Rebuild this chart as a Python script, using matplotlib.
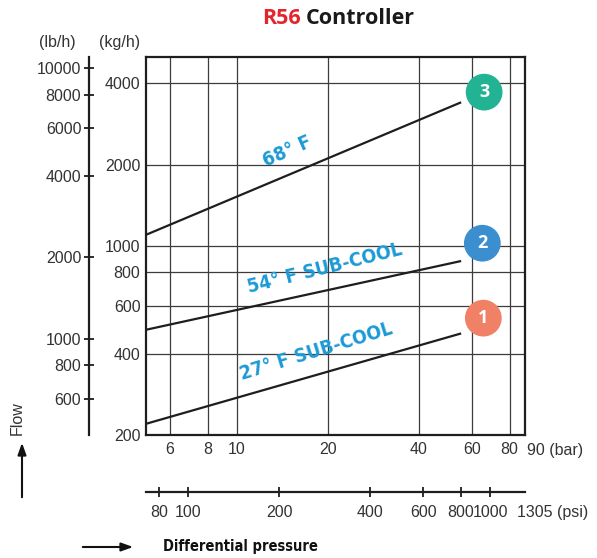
import matplotlib
matplotlib.use("Agg")
import matplotlib.pyplot as plt
from matplotlib.ticker import FixedLocator, NullLocator, NullFormatter

# ---- data -----------------------------------------------------------------
pressure_bar = [5, 55.3]               # differential pressure range of the curves
flow_27F_subcool = [220, 475]          # kg/h
flow_54F_subcool = [490, 880]          # kg/h
flow_68F = [1100, 3400]                # kg/h

bar_ticks = [6, 8, 10, 20, 40, 60, 80]
kgh_ticks = [200, 400, 600, 800, 1000, 2000, 4000]
lbh_ticks = [600, 800, 1000, 2000, 4000, 6000, 8000, 10000]
psi_ticks = [80, 100, 200, 400, 600, 800, 1000]

curve_labels = ["27\u00b0 F SUB-COOL", "54\u00b0 F SUB-COOL", "68\u00b0 F"]
badge_numbers = ["1", "2", "3"]
badge_pos = [(65.5, 541), (65.0, 1024), (65.9, 3707)]
badge_colors = ["#f08166", "#3b8fce", "#22b294"]

KG_TO_LB = 2.20462
BAR_TO_PSI = 14.5038

# ---- figure ---------------------------------------------------------------
W, H = 597, 558
fig = plt.figure(figsize=(W / 100, H / 100), dpi=100)
fig.patch.set_facecolor("white")

tick_font = ["Liberation Sans", "DejaVu Sans"]
tick_size = 11.5
txt_color = "#333333"
cond = dict(family="DejaVu Sans", stretch="condensed", fontweight="bold")

left, right, top, bottom = 146, 525, 57, 435
ax = fig.add_axes([left / W, 1 - bottom / H, (right - left) / W, (bottom - top) / H])
ax.set_xscale("log")
ax.set_yscale("log")
ax.set_xlim(5, 90)
ax.set_ylim(200, 5000)

ax.xaxis.set_major_locator(FixedLocator(bar_ticks))
ax.xaxis.set_minor_locator(NullLocator())
ax.set_xticklabels([str(t) for t in bar_ticks], family=tick_font)
ax.yaxis.set_major_locator(FixedLocator(kgh_ticks))
ax.yaxis.set_minor_locator(NullLocator())
ax.set_yticklabels([str(t) for t in kgh_ticks], family=tick_font)
ax.tick_params(axis="x", length=0, pad=5, labelsize=tick_size, labelcolor=txt_color)
ax.tick_params(axis="y", length=0, pad=4, labelsize=tick_size, labelcolor=txt_color)
ax.grid(True, which="major", color="#3c3c3c", lw=0.9)
for s in ax.spines.values():
    s.set_linewidth(1.6)
    s.set_color("#1e1e1e")

# flow curves
for flows in (flow_27F_subcool, flow_54F_subcool, flow_68F):
    ax.plot(pressure_bar, flows, color="#1e1e1e", lw=1.6, solid_capstyle="butt", zorder=3)

# curve annotations
blue = "#1c9ad6"
ax.text(18.3, 406, curve_labels[0], rotation=17, color=blue, fontsize=14,
        ha="center", va="center", zorder=4, **cond)
ax.text(19.5, 824, curve_labels[1], rotation=14, color=blue, fontsize=14,
        ha="center", va="center", zorder=4, **cond)
ax.text(14.7, 2234, curve_labels[2], rotation=24, color=blue, fontsize=14,
        ha="center", va="center", zorder=4, **cond)

# numbered badges
for (bx, by), num, col in zip(badge_pos, badge_numbers, badge_colors):
    ax.scatter([bx], [by], s=700, color=col, edgecolors="none", zorder=5, clip_on=False)
    ax.text(bx, by, num, color="white", fontsize=13, fontweight="bold",
            family=["Open Sans", "DejaVu Sans"], ha="center", va="center", zorder=6)

# secondary flow axis in lb/h
sec_y = ax.secondary_yaxis(-(left - 89) / (right - left),
                           functions=(lambda k: k * KG_TO_LB, lambda l: l / KG_TO_LB))
sec_y.yaxis.set_major_locator(FixedLocator(lbh_ticks))
sec_y.set_yticklabels([str(t) for t in lbh_ticks], family=tick_font)
sec_y.yaxis.set_minor_locator(FixedLocator([1000, 10000]))
sec_y.yaxis.set_minor_formatter(NullFormatter())
sec_y.tick_params(which="major", direction="inout", length=7, width=1.3, color="#1e1e1e",
                  pad=2, labelsize=tick_size, labelcolor=txt_color)
sec_y.tick_params(which="minor", direction="inout", length=12, width=1.3, color="#1e1e1e")
sec_y.spines["left"].set_linewidth(1.6)
sec_y.spines["left"].set_color("#1e1e1e")

# secondary pressure axis in psi
sec_x = ax.secondary_xaxis(-(492 - bottom) / (bottom - top),
                           functions=(lambda b: b * BAR_TO_PSI, lambda p: p / BAR_TO_PSI))
sec_x.xaxis.set_major_locator(FixedLocator(psi_ticks))
sec_x.set_xticklabels([str(t) for t in psi_ticks], family=tick_font)
sec_x.xaxis.set_minor_locator(FixedLocator([100, 1000]))
sec_x.xaxis.set_minor_formatter(NullFormatter())
sec_x.tick_params(which="major", direction="inout", length=7, width=1.3, color="#1e1e1e",
                  pad=6, labelsize=tick_size, labelcolor=txt_color)
sec_x.tick_params(which="minor", direction="inout", length=13, width=1.3, color="#1e1e1e")
sec_x.spines["bottom"].set_linewidth(1.6)
sec_x.spines["bottom"].set_color("#1e1e1e")

# unit captions
fig.text(527 / W, 1 - 450 / H, "90 (bar)", family=tick_font, fontsize=tick_size,
         color=txt_color, ha="left", va="center")
fig.text(517 / W, 1 - 513 / H, "1305 (psi)", family=tick_font, fontsize=tick_size,
         color=txt_color, ha="left", va="center")
fig.text(57.5 / W, 1 - 42 / H, "(lb/h)", family=tick_font, fontsize=tick_size,
         color=txt_color, ha="center", va="center")
fig.text(120 / W, 1 - 42 / H, "(kg/h)", family=tick_font, fontsize=tick_size,
         color=txt_color, ha="center", va="center")

# title
title_font = ["Open Sans", "DejaVu Sans"]
fig.text(301 / W, 1 - 19 / H, "R56", family=title_font, fontsize=15.5, fontweight="bold",
         color="#e5242b", ha="right", va="center")
fig.text(306 / W, 1 - 19 / H, "Controller", family=title_font, fontsize=15.5,
         fontweight="bold", color="#1a1a1a", ha="left", va="center")

# axis direction hints
fig.text(17 / W, 1 - 418 / H, "Flow", family=tick_font, fontsize=tick_size, color=txt_color,
         rotation=90, ha="center", va="center")
fig.add_artist(matplotlib.patches.FancyArrowPatch(
    (22 / W, 1 - 500 / H), (22 / W, 1 - 440 / H), transform=fig.transFigure,
    arrowstyle="-|>,head_length=7,head_width=2.5", color="#111111", lw=1.5))
fig.add_artist(matplotlib.patches.FancyArrowPatch(
    (80 / W, 1 - 547 / H), (136 / W, 1 - 547 / H), transform=fig.transFigure,
    arrowstyle="-|>,head_length=7,head_width=2.5", color="#111111", lw=1.5))
fig.text(163 / W, 1 - 547 / H, "Differential pressure", fontsize=10.5, color="#111111",
         ha="left", va="center", **cond)

fig.savefig("out.png", dpi=100, facecolor="white")
